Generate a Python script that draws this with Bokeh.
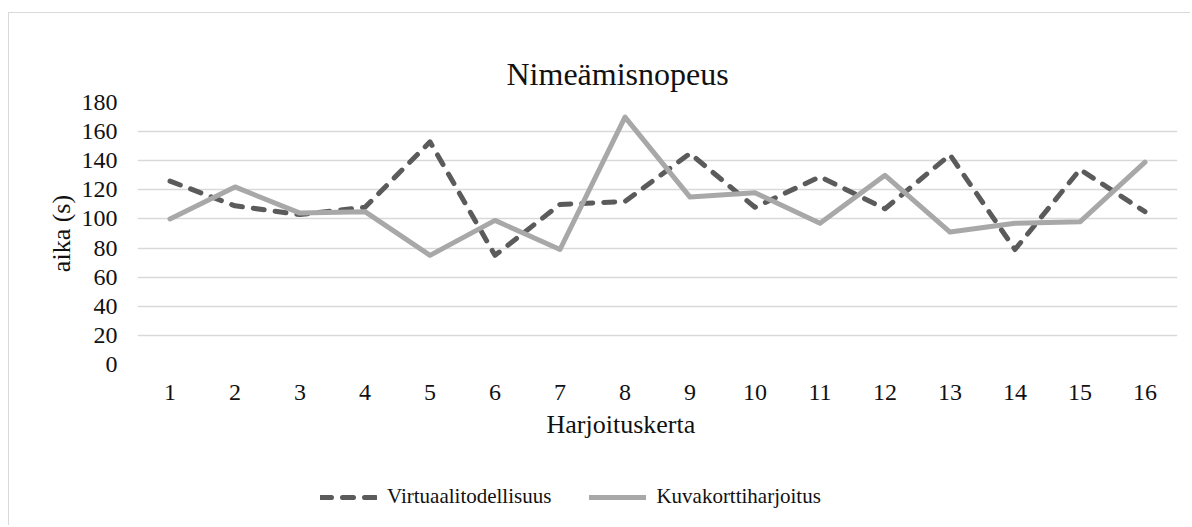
from bokeh.plotting import figure
from bokeh.layouts import column
from bokeh.models import FactorRange, Range1d, SingleIntervalTicker, Legend, LegendItem, Title
from bokeh.embed import file_html
from bokeh.resources import INLINE

# ---- data ----
sessions = ["1", "2", "3", "4", "5", "6", "7", "8", "9", "10", "11", "12", "13", "14", "15", "16"]
virtuaali = [126, 109, 103, 108, 153, 75, 110, 112, 145, 108, 129, 107, 144, 79, 134, 105]
kuvakortti = [100, 122, 104, 105, 75, 99, 79, 170, 115, 118, 97, 130, 91, 97, 98, 139]
series_names = ["Virtuaalitodellisuus", "Kuvakorttiharjoitus"]
title_text = "Nime\u00e4misnopeus"
x_label = "Harjoituskerta"
y_label = "aika (s)"

FONT = "Liberation Serif"
TXT = "#111111"
DASH_COLOR = "#5b5b5b"
SOLID_COLOR = "#a8a8a8"
LW = 5
BORDER = "1px solid #d9d9d9"

p = figure(
    width=1182, height=447,
    x_range=FactorRange(factors=sessions, range_padding=0),
    y_range=Range1d(0, 180),
    output_backend="svg", toolbar_location=None,
    min_border_left=128, min_border_right=14,
    min_border_top=89, min_border_bottom=96,
    margin=(12, 0, 0, 8),
)
p.styles = {"border-top": BORDER, "border-left": BORDER}
p.outline_line_color = None
p.background_fill_color = "white"
p.border_fill_color = "white"

# title
t = Title(text=title_text, align="left", offset=369, text_font=FONT,
          text_font_size="32px", text_font_style="normal", text_color=TXT, standoff=22)
p.add_layout(t, "above")

p.line(sessions, virtuaali, line_color=DASH_COLOR, line_width=LW,
       line_dash="11 11", line_cap="round", line_join="round")
p.line(sessions, kuvakortti, line_color=SOLID_COLOR, line_width=LW,
       line_cap="round", line_join="round")

# axes
p.xgrid.grid_line_color = None
p.ygrid.grid_line_color = "#d9d9d9"
p.ygrid.grid_line_width = 1.5
p.yaxis.ticker = SingleIntervalTicker(interval=20)

for ax in (p.xaxis[0], p.yaxis[0]):
    ax.axis_line_color = None
    ax.major_tick_line_color = None
    ax.minor_tick_line_color = None
    ax.major_tick_out = 0
    ax.major_tick_in = 0
    ax.minor_tick_out = 0
    ax.major_label_text_font = FONT
    ax.major_label_text_font_size = "24px"
    ax.major_label_text_color = TXT

p.xaxis.major_label_standoff = 20
p.xaxis.axis_label = None
p.yaxis.major_label_standoff = 20
p.yaxis.axis_label = y_label
p.yaxis.axis_label_text_font = FONT
p.yaxis.axis_label_text_font_size = "26px"
p.yaxis.axis_label_text_font_style = "normal"
p.yaxis.axis_label_text_color = TXT
p.yaxis.axis_label_standoff = 3

xt = Title(text=x_label, align="left", offset=409, text_font=FONT,
           text_font_size="26px", text_font_style="normal", text_color=TXT, standoff=11)
p.add_layout(xt, "below")

# ---- legend strip (continues the chart area below) ----
pl = figure(
    width=1182, height=66,
    x_range=Range1d(0, 1), y_range=Range1d(0, 1),
    x_axis_type=None, y_axis_type=None,
    output_backend="svg", toolbar_location=None,
    min_border=0, margin=(0, 0, 0, 8),
)
pl.styles = {"border-left": BORDER}
pl.outline_line_color = None
pl.grid.visible = False
pl.background_fill_color = "white"
pl.border_fill_color = "white"

# single-point proxies: nothing is drawn in the strip, only their legend glyphs
l1 = pl.line([0], [0], line_color=DASH_COLOR, line_width=LW,
             line_dash="11 11", line_cap="round")
l2 = pl.line([0], [0], line_color=SOLID_COLOR, line_width=LW, line_cap="round")

legend = Legend(items=[LegendItem(label=series_names[0], renderers=[l1]),
                       LegendItem(label=series_names[1], renderers=[l2])],
                orientation="horizontal", location=(183, 16))
legend.label_text_font = FONT
legend.label_text_font_size = "21px"
legend.label_text_color = TXT
legend.glyph_width = 57
legend.glyph_height = 22
legend.label_height = 22
legend.label_standoff = 10
legend.spacing = 38
legend.padding = 0
legend.margin = 0
legend.border_line_color = None
legend.background_fill_alpha = 0
pl.add_layout(legend, "center")

layout = column(p, pl)
open("out.html", "w").write(file_html(layout, INLINE))
